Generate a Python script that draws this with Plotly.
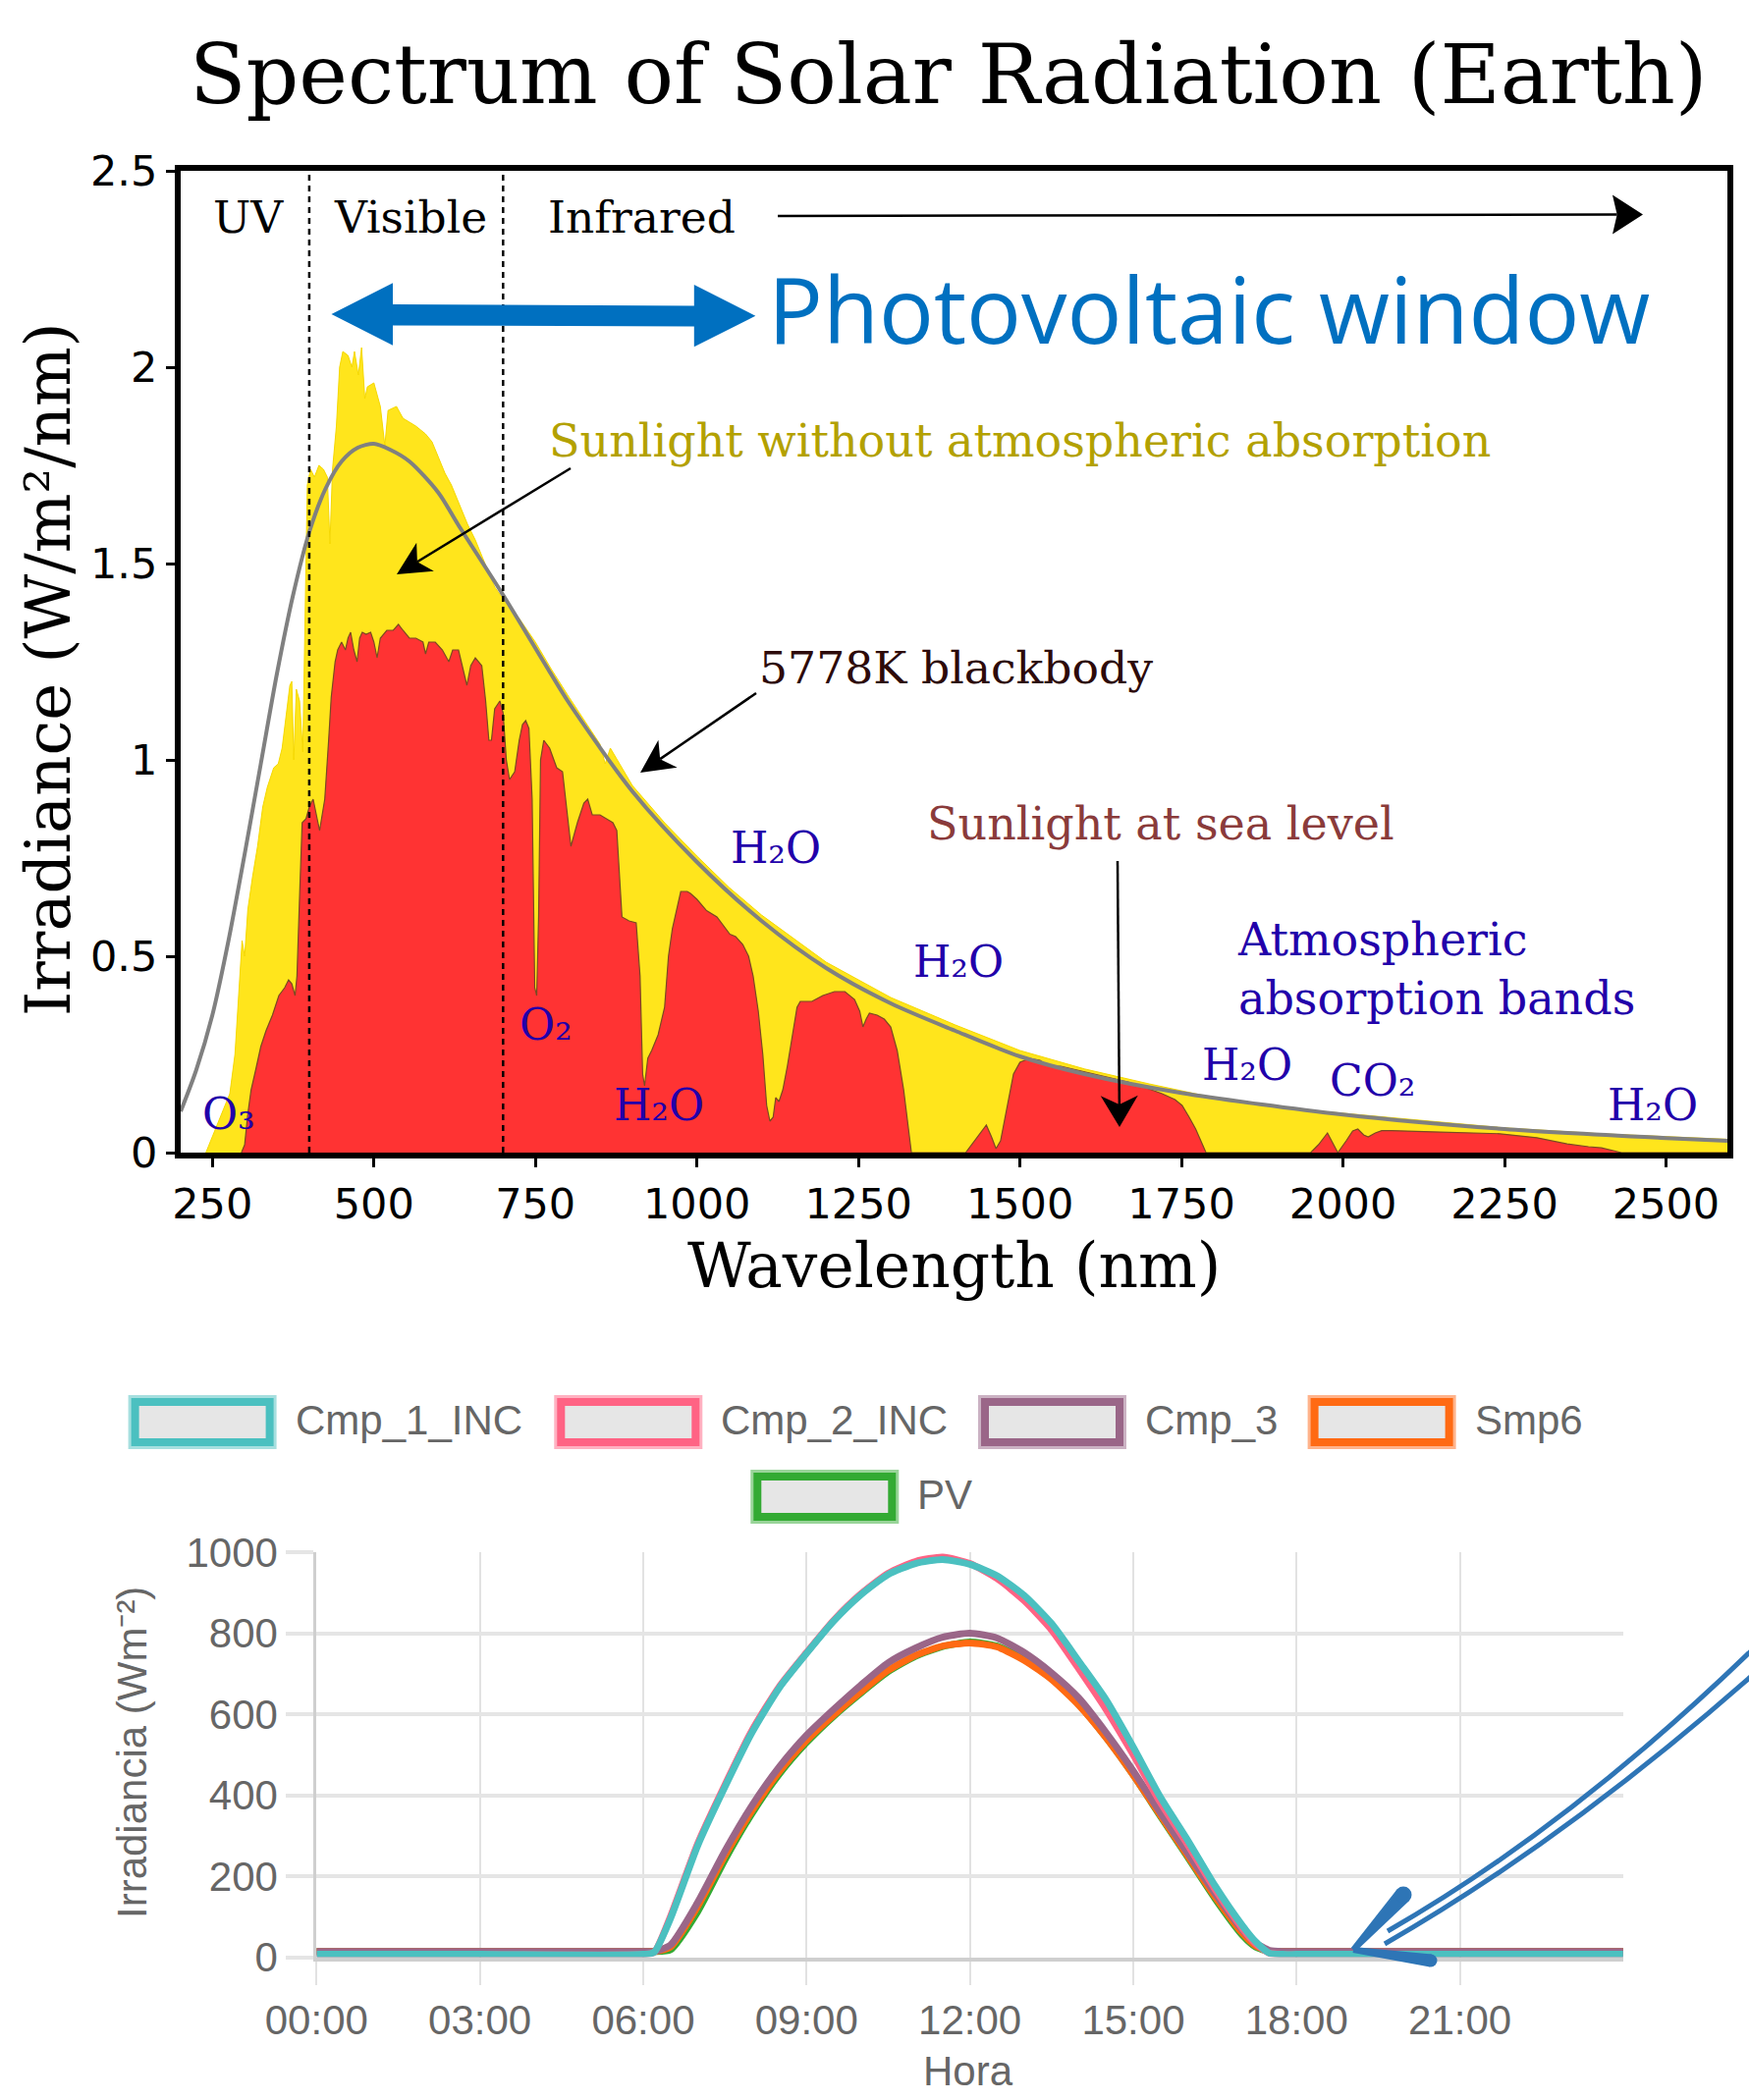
import math
import plotly.graph_objects as go

W, H = 1781, 2139
def PX(x): return x / W
def PY(y): return 1 - y / H

# ---------------- top chart data ----------------
wl_ticks = [250, 500, 750, 1000, 1250, 1500, 1750, 2000, 2250, 2500]
irr_ticks = [0, 0.5, 1, 1.5, 2, 2.5]
irr_ticktext = ['0', '0.5', '1', '1.5', '2', '2.5']
band_edges_nm = [400, 700]

bb_nm = [201, 225, 250, 275, 300, 325, 350, 375, 400, 425, 450, 475, 500, 525, 555,
         600, 630, 700, 770, 800, 900, 1000, 1100, 1200, 1300, 1400, 1500, 1600, 1750,
         2000, 2250, 2500, 2595]
bb_val = [0.105, 0.21, 0.35, 0.54, 0.76, 0.99, 1.22, 1.42, 1.58, 1.69, 1.76, 1.795, 1.805, 1.79, 1.76,
          1.68, 1.60, 1.42, 1.23, 1.15, 0.92, 0.74, 0.59, 0.47, 0.38, 0.31, 0.245, 0.20, 0.152,
          0.097, 0.06, 0.037, 0.03]

etr_nm = [240, 255, 265, 277, 285, 292, 296, 300, 305, 312,
          320, 328, 335, 345, 352, 358, 365, 370, 373, 376,
          380, 385, 390, 393, 397, 402, 408, 415, 422, 428,
          432, 436, 442, 447, 452, 460, 466, 470, 476, 481,
          486, 490, 500, 510, 517, 522, 535, 545, 555, 565,
          580, 590, 600, 610, 620, 630, 645, 657, 672, 687,
          700, 725, 750, 775, 800, 830, 850, 858, 866, 900,
          950, 1000, 1050, 1100, 1200, 1300, 1400, 1500, 1600, 1700,
          1800, 1900, 2000, 2100, 2250, 2400, 2500, 2595]
etr_val = [0.0, 0.06, 0.10, 0.15, 0.25, 0.45, 0.54, 0.50, 0.62, 0.70,
           0.78, 0.88, 0.93, 0.98, 0.99, 1.03, 1.12, 1.19, 1.20, 1.00,
           1.18, 1.15, 1.02, 1.30, 1.70, 1.74, 1.72, 1.75, 1.74, 1.72,
           1.55, 1.74, 1.85, 2.00, 2.04, 2.03, 2.00, 2.04, 1.98, 2.05,
           1.92, 1.95, 1.96, 1.90, 1.80, 1.89, 1.90, 1.87, 1.86, 1.85,
           1.83, 1.81, 1.77, 1.73, 1.70, 1.66, 1.60, 1.56, 1.50, 1.44,
           1.41, 1.36, 1.30, 1.23, 1.165, 1.09, 1.04, 0.99, 1.03, 0.935,
           0.84, 0.755, 0.675, 0.605, 0.485, 0.395, 0.325, 0.26, 0.213, 0.175,
           0.14, 0.115, 0.10, 0.085, 0.063, 0.048, 0.04, 0.034]

sea_nm = [295, 300, 305, 310, 317, 325, 333, 343, 353, 362,
          368, 373, 378, 381, 385, 389, 395, 400, 406, 411,
          416, 420, 424, 430, 434, 440, 444, 450, 456, 460,
          464, 469, 474, 478, 482, 488, 495, 500, 505, 510,
          520, 530, 538, 545, 555, 565, 576, 580, 585, 595,
          606, 616, 622, 631, 638, 644, 650, 657, 667, 673,
          678, 682, 687, 695, 700, 705, 710, 718, 725, 730,
          735, 740, 745, 749, 752, 755, 758, 763, 772, 783,
          792, 800, 805, 815, 825, 831, 838, 850, 861, 870,
          876, 880, 884, 895, 906, 912, 916, 919, 924, 930,
          940, 950, 956, 962, 975, 985, 990, 1000, 1015, 1031,
          1051, 1060, 1071, 1080, 1087, 1095, 1102, 1108, 1113, 1118,
          1122, 1127, 1133, 1140, 1148, 1155, 1160, 1178, 1195, 1213,
          1229, 1244, 1252, 1257, 1262, 1267, 1279, 1290, 1300, 1310,
          1320, 1327, 1332, 1416, 1430, 1448, 1456, 1463, 1470, 1480,
          1490, 1500, 1515, 1531, 1545, 1563, 1590, 1615, 1640, 1667,
          1695, 1720, 1740, 1751, 1762, 1772, 1780, 1788, 1950, 1962,
          1976, 1985, 1992, 2005, 2015, 2023, 2032, 2039, 2050, 2060,
          2075, 2138, 2243, 2300, 2347, 2380, 2400, 2431, 2595]
sea_val = [0.00, 0.02, 0.10, 0.16, 0.21, 0.27, 0.31, 0.35, 0.40, 0.42,
           0.44, 0.43, 0.40, 0.45, 0.65, 0.84, 0.85, 0.88, 0.90, 0.86,
           0.82, 0.86, 0.90, 1.05, 1.16, 1.25, 1.28, 1.30, 1.28, 1.31,
           1.325, 1.28, 1.25, 1.31, 1.325, 1.32, 1.325, 1.30, 1.26, 1.31,
           1.33, 1.33, 1.345, 1.33, 1.31, 1.31, 1.30, 1.27, 1.30, 1.30,
           1.28, 1.25, 1.28, 1.28, 1.23, 1.19, 1.24, 1.26, 1.24, 1.15,
           1.05, 1.05, 1.13, 1.15, 1.12, 1.00, 0.95, 0.97, 1.05, 1.09,
           1.10, 1.08, 0.90, 0.42, 0.40, 0.60, 1.00, 1.05, 1.03, 0.98,
           0.97, 0.85, 0.78, 0.84, 0.89, 0.90, 0.86, 0.86, 0.85, 0.84,
           0.82, 0.70, 0.60, 0.59, 0.585, 0.45, 0.20, 0.17, 0.24, 0.26,
           0.30, 0.37, 0.50, 0.57, 0.665, 0.665, 0.66, 0.645, 0.616, 0.60,
           0.556, 0.55, 0.53, 0.50, 0.45, 0.36, 0.25, 0.12, 0.08, 0.09,
           0.14, 0.13, 0.16, 0.22, 0.30, 0.37, 0.385, 0.385, 0.40, 0.41,
           0.41, 0.39, 0.36, 0.32, 0.34, 0.355, 0.35, 0.34, 0.32, 0.26,
           0.16, 0.06, 0.00, 0.00, 0.03, 0.07, 0.04, 0.01, 0.03, 0.12,
           0.20, 0.23, 0.24, 0.235, 0.22, 0.22, 0.21, 0.20, 0.19, 0.18,
           0.165, 0.15, 0.135, 0.12, 0.09, 0.06, 0.03, 0.00, 0.00, 0.02,
           0.05, 0.02, 0.00, 0.03, 0.055, 0.06, 0.045, 0.04, 0.05, 0.056,
           0.056, 0.053, 0.048, 0.038, 0.022, 0.015, 0.012, 0.00, 0.00]

# ---------------- bottom chart data ----------------
hour_ticks = [0, 3, 6, 9, 12, 15, 18, 21]
hour_labels = ['00:00', '03:00', '06:00', '09:00', '12:00', '15:00', '18:00', '21:00']
irr2_ticks = [0, 200, 400, 600, 800, 1000]

hours = [0, 3, 6, 6.2, 6.5, 7, 7.5, 8, 8.5, 9, 9.5, 10, 10.5, 11, 11.5, 12,
         12.5, 13, 13.5, 14, 14.5, 15, 15.5, 16, 16.5, 17, 17.25, 17.5, 17.75, 18, 21, 24]
cmp1_inc = [7, 7, 7, 12, 95, 275, 420, 555, 665, 750, 830, 895, 945, 972, 982, 970,
            942, 893, 824, 731, 636, 519, 395, 289, 177, 79, 38, 10, 7, 7, 7, 7]
cmp2_inc = [7, 7, 7, 12, 100, 280, 425, 560, 668, 752, 832, 897, 948, 977, 988, 972,
            935, 880, 808, 712, 612, 500, 382, 278, 168, 72, 33, 10, 7, 7, 7, 7]
cmp3 = [14, 14, 14, 14, 30, 135, 262, 375, 470, 548, 612, 672, 727, 763, 790, 800,
        788, 752, 702, 640, 555, 460, 357, 257, 158, 68, 35, 17, 14, 14, 14, 14]
smp6 = [14, 14, 14, 14, 25, 125, 250, 362, 458, 535, 598, 655, 708, 745, 768, 776,
        766, 733, 686, 622, 542, 450, 350, 250, 150, 60, 28, 15, 14, 14, 14, 14]
pv = [14, 14, 14, 14, 18, 112, 240, 355, 452, 530, 595, 652, 705, 743, 767, 778,
      768, 735, 688, 624, 543, 450, 348, 247, 145, 55, 25, 14, 14, 14, 14, 14]

series_names = ['Cmp_1_INC', 'Cmp_2_INC', 'Cmp_3', 'Smp6', 'PV']
series_values = [cmp1_inc, cmp2_inc, cmp3, smp6, pv]
series_colors = ['#4BC0C0', '#FF6384', '#9A6688', '#FF6A13', '#33AA33']
series_light = ['#A6DFDF', '#FFB1C1', '#CBB2C3', '#FFB38B', '#99D499']

# ---------------- figure ----------------
fig = go.Figure()

fig.add_trace(go.Scatter(x=etr_nm, y=etr_val, mode='lines', fill='tozeroy',
                         fillcolor='#FFE51C', line=dict(color='#F5D800', width=1),
                         xaxis='x', yaxis='y', hoverinfo='skip'))
fig.add_trace(go.Scatter(x=sea_nm, y=sea_val, mode='lines', fill='tozeroy',
                         fillcolor='#FF3333', line=dict(color='#7A4A22', width=1.2),
                         xaxis='x', yaxis='y', hoverinfo='skip'))
fig.add_trace(go.Scatter(x=bb_nm, y=bb_val, mode='lines',
                         line=dict(color='#808080', width=4, shape='spline', smoothing=0.8),
                         xaxis='x', yaxis='y', hoverinfo='skip'))

for i in reversed(range(len(series_names))):
    fig.add_trace(go.Scatter(x=hours, y=series_values[i], mode='lines', name=series_names[i],
                             line=dict(color=series_colors[i], width=7, shape='spline', smoothing=0.6),
                             xaxis='x2', yaxis='y2'))

ann = []
def txt(s, x, y, size, color, family, xanchor='center', yanchor='middle', angle=0, align='center'):
    ann.append(dict(text=s, x=PX(x), y=PY(y), xref='paper', yref='paper', showarrow=False,
                    font=dict(family=family, size=size, color=color), align=align,
                    xanchor=xanchor, yanchor=yanchor, textangle=angle))

shapes = []
def poly(points, color):
    p = 'M ' + ' L '.join(f'{PX(x):.5f},{PY(y):.5f}' for x, y in points) + ' Z'
    shapes.append(dict(type='path', xref='paper', yref='paper', path=p,
                       fillcolor=color, line=dict(width=0), layer='above'))

def arrow(tail, tip, width=2.5, hl=34, hw=17, notch=0.72, color='black'):
    dx, dy = tip[0] - tail[0], tip[1] - tail[1]
    L = math.hypot(dx, dy)
    ux, uy = dx / L, dy / L
    nx, ny = -uy, ux
    bx, by = tip[0] - hl * ux, tip[1] - hl * uy
    kx, ky = tip[0] - notch * hl * ux, tip[1] - notch * hl * uy
    shapes.append(dict(type='line', xref='paper', yref='paper',
                       x0=PX(tail[0]), y0=PY(tail[1]), x1=PX(kx), y1=PY(ky),
                       line=dict(color=color, width=width), layer='above'))
    poly([tip, (bx + hw * nx, by + hw * ny), (kx, ky), (bx - hw * nx, by - hw * ny)], color)

SERIF = 'DejaVu Serif'
BLUE_LBL = '#2200AA'

# top chart texts
txt('Spectrum of Solar Radiation (Earth)', 966, 76, 84, 'black', SERIF)
txt('Irradiance (W/m²/nm)', 49, 682, 64, 'black', SERIF, angle=-90)
txt('Wavelength (nm)', 972, 1289, 63, 'black', SERIF)
txt('UV', 215, 221, 45.5, 'black', SERIF, xanchor='left')
txt('Visible', 338, 221, 45.5, 'black', SERIF, xanchor='left')
txt('Infrared', 556, 221, 45.5, 'black', SERIF, xanchor='left')
txt('Photovoltaic window', 780, 314, 93, '#0070C0', 'Open Sans', xanchor='left')
txt('Sunlight without atmospheric absorption', 557, 449, 46, '#B3A100', SERIF, xanchor='left')
txt('5778K blackbody', 771, 680, 45.7, '#2D0A0A', SERIF, xanchor='left')
txt('Sunlight at sea level', 942, 839, 46, '#8A3B3B', SERIF, xanchor='left')
txt('Atmospheric<br>absorption bands', 1258, 987, 46, BLUE_LBL, SERIF, xanchor='left', align='left')

# absorption band molecule labels
molecules = [('H₂O', 742, 863), ('H₂O', 928, 980), ('H₂O', 623, 1125), ('H₂O', 1222, 1084),
             ('H₂O', 1635, 1125), ('CO₂', 1352, 1100), ('O₂', 527, 1043), ('O₃', 204, 1134)]
for s, x, y in molecules:
    txt(s, x, y, 44, BLUE_LBL, SERIF, xanchor='left')

arrow((792, 220), (1673, 218.5), width=2.5, hl=31, hw=20, notch=0.85)
arrow((581, 477), (404, 585))
arrow((770, 706), (652, 787))
arrow((1138, 877), (1140, 1148), hl=32, hw=19)

# bottom chart texts
txt('Irradiancia (Wm⁻²)', 134, 1785, 42, '#666666', 'Liberation Sans', angle=-90)
txt('Hora', 986, 2109, 42, '#666666', 'Liberation Sans')

# dashed band separators
for xv in band_edges_nm:
    shapes.append(dict(type='line', xref='x', yref='y', x0=xv, x1=xv, y0=0, y1=2.5,
                       line=dict(color='black', width=2.5, dash='6px,5px'), layer='above'))

# Photovoltaic window double arrow
poly([(337.5, 320), (400, 288.3), (400, 310), (706.8, 311.5), (706.8, 290),
      (769.3, 321.7), (706.8, 353.3), (706.8, 332.5), (400, 331.5), (400, 351.7)], '#0070C0')

# legend of bottom chart
box_left = [130.6, 564.3, 996.0, 1331.6, 764.3]
box_top = [1421, 1421, 1421, 1421, 1497]
for i, name in enumerate(series_names):
    x0, y0 = box_left[i], box_top[i]
    x1, y1 = x0 + 151, y0 + 55
    shapes.append(dict(type='rect', xref='paper', yref='paper', x0=PX(x0), x1=PX(x1),
                       y0=PY(y1), y1=PY(y0), fillcolor=series_light[i], line=dict(width=0)))
    shapes.append(dict(type='rect', xref='paper', yref='paper', x0=PX(x0 + 7), x1=PX(x1 - 7),
                       y0=PY(y1 - 7), y1=PY(y0 + 7), fillcolor='#E6E6E6',
                       line=dict(color=series_colors[i], width=8)))
    txt(name, x1 + 17, (y0 + y1) / 2 - 2, 42, '#666666', 'Liberation Sans', xanchor='left')

# blue hand-drawn arrow (bottom right)
ARW = '#2E75B6'
def bez(p0, c, p2):
    return (f'M {PX(p0[0]):.5f},{PY(p0[1]):.5f} Q {PX(c[0]):.5f},{PY(c[1]):.5f} '
            f'{PX(p2[0]):.5f},{PY(p2[1]):.5f}')
shapes.append(dict(type='path', xref='paper', yref='paper', path=bez((1795, 1670), (1603, 1858), (1413, 1967)),
                   line=dict(color=ARW, width=5), layer='above'))
shapes.append(dict(type='path', xref='paper', yref='paper', path=bez((1795, 1697), (1598, 1872), (1410, 1980)),
                   line=dict(color=ARW, width=5), layer='above'))

def taper(T, E, wt, we):
    dx, dy = E[0] - T[0], E[1] - T[1]
    L = math.hypot(dx, dy)
    nx, ny = -dy / L, dx / L
    poly([(T[0] + nx * wt, T[1] + ny * wt), (E[0] + nx * we, E[1] + ny * we),
          (E[0] - nx * we, E[1] - ny * we), (T[0] - nx * wt, T[1] - ny * wt)], ARW)
    shapes.append(dict(type='circle', xref='paper', yref='paper',
                       x0=PX(E[0] - we), x1=PX(E[0] + we), y0=PY(E[1] + we), y1=PY(E[1] - we),
                       fillcolor=ARW, line=dict(width=0), layer='above'))

tip = (1378, 1986)
taper(tip, (1429, 1930), 3, 8.5)
taper(tip, (1457, 1997), 3, 6.5)

fig.update_layout(
    template='none',
    width=W, height=H, autosize=False,
    margin=dict(l=0, r=0, t=0, b=0, pad=0),
    paper_bgcolor='white', plot_bgcolor='white', showlegend=False,
    annotations=ann, shapes=shapes,
    xaxis=dict(domain=[PX(184), PX(1759)], range=[201, 2595], anchor='y', automargin=False,
               tickmode='array', tickvals=wl_ticks, ticks='outside', ticklen=9, tickwidth=2.5,
               tickcolor='black', showline=True, linewidth=6, linecolor='black', mirror=True,
               showgrid=False, zeroline=False,
               tickfont=dict(family='DejaVu Sans', size=43, color='black')),
    yaxis=dict(domain=[PY(1174), PY(174)], range=[0, 2.5], anchor='x', automargin=False,
               tickmode='array', tickvals=irr_ticks, ticktext=irr_ticktext, ticks='outside',
               ticklen=9, tickwidth=2.5, tickcolor='black', showline=True, linewidth=6,
               linecolor='black', mirror=True, showgrid=False, zeroline=False,
               tickfont=dict(family='DejaVu Sans', size=43, color='black')),
    xaxis2=dict(domain=[PX(322.3), PX(1652.9)], range=[0, 24], anchor='y2', automargin=False,
                tickmode='array', tickvals=hour_ticks, ticktext=hour_labels,
                showgrid=True, gridcolor='#E2E2E2', gridwidth=2,
                ticks='outside', ticklen=24, tickwidth=2, tickcolor='#E2E2E2',
                showline=True, linecolor='#CFCFCF', linewidth=4, zeroline=False,
                tickfont=dict(family='Liberation Sans', size=42, color='#666666')),
    yaxis2=dict(domain=[PY(1993.5), PY(1581)], range=[0, 1000], anchor='x2', automargin=False,
                tickmode='array', tickvals=irr2_ticks,
                showgrid=True, gridcolor='#E5E5E5', gridwidth=4,
                ticks='outside', ticklen=28, tickwidth=4, tickcolor='#E5E5E5',
                showline=True, linecolor='#CFCFCF', linewidth=3, zeroline=False,
                tickfont=dict(family='Liberation Sans', size=42, color='#666666')),
)

fig.write_html("out.html", config={'displayModeBar': False},
               post_script="document.body.style.margin='0';document.body.style.overflow='hidden';")
